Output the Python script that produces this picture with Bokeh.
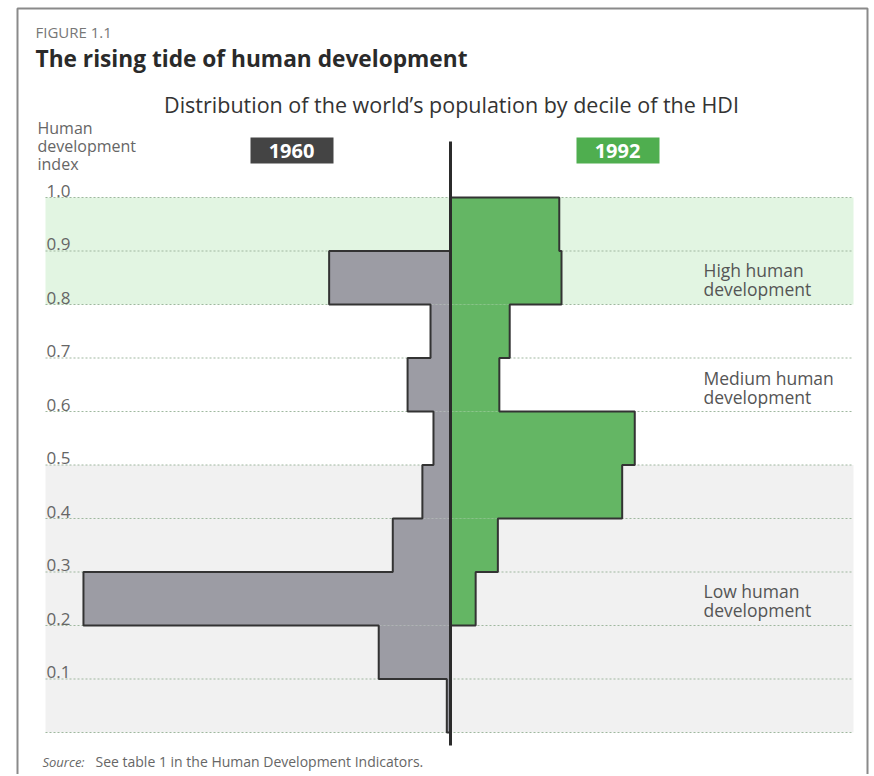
from bokeh.plotting import figure
from bokeh.models import Range1d, Label, BoxAnnotation, ColumnDataSource
from bokeh.core.properties import value
from bokeh.embed import file_html
from bokeh.resources import INLINE

# ---------------- data ----------------
decile_low = [0.9, 0.8, 0.7, 0.6, 0.5, 0.4, 0.3, 0.2, 0.1, 0.0]
share_1960 = [0.0, 16.4, 2.7, 5.8, 2.3, 3.8, 7.8, 49.6, 9.7, 0.5]
share_1992 = [14.7, 15.0, 8.0, 6.6, 24.9, 23.2, 6.4, 3.4, 0.0, 0.0]
tick_values = [1.0, 0.9, 0.8, 0.7, 0.6, 0.5, 0.4, 0.3, 0.2, 0.1]
tick_labels = ["1.0", "0.9", "0.8", "0.7", "0.6", "0.5", "0.4", "0.3", "0.2", "0.1"]
grid_values = [1.0, 0.9, 0.8, 0.7, 0.6, 0.5, 0.4, 0.3, 0.2, 0.1, 0.0]
band_names = ["High human", "Medium human", "Low human"]
band_label_hdi = [0.864, 0.662, 0.265]

# ---------------- layout ----------------
W, H = 872, 774
OFF = 0           # page offset of the canvas
CX = 450          # page x of the zero line
PX_PCT = 7.4      # px per percent
Y0 = 732          # page y of HDI 0
PX_HDI = 535      # px per 1.0 HDI

def dx(sx):       # page x -> data x
    return (sx - CX) / PX_PCT

def dy(sy):       # page y -> data y
    return (Y0 - sy) / PX_HDI

FONT = "Open Sans"
GREEN = "#64b664"
GRAY = "#9c9ca4"
EDGE = "#333333"

p = figure(width=W, height=H, output_backend="svg", toolbar_location=None,
           x_axis_location=None, y_axis_location=None, min_border=0,
           x_range=Range1d(dx(OFF), dx(OFF + W)), y_range=Range1d(dy(OFF + H), dy(OFF)))
p.grid.visible = False
p.outline_line_color = None
p.background_fill_color = "white"
p.border_fill_color = "white"

gl, gr = dx(45), dx(853)

# background bands
p.add_layout(BoxAnnotation(left=gl, right=gr, bottom=0.8, top=1.0,
                           fill_color="#e2f5e2", fill_alpha=1, line_color=None, level="underlay"))
p.add_layout(BoxAnnotation(left=gl, right=gr, bottom=0.0, top=0.5,
                           fill_color="#f1f1f1", fill_alpha=1, line_color=None, level="underlay"))

# grid lines
p.segment(x0=[gl] * len(grid_values), x1=[gr] * len(grid_values),
          y0=grid_values, y1=grid_values, line_color="#9fb89f",
          line_width=1.2, line_dash="2 2")

# bars
mids = [d + 0.05 for d in decile_low]
src = ColumnDataSource(dict(y=mids, l60=[-v for v in share_1960], r92=share_1992))
p.hbar(y="y", height=0.1, left="l60", right=0, source=src, fill_color=GRAY, line_color=None)
p.hbar(y="y", height=0.1, left=0, right="r92", source=src, fill_color=GREEN, line_color=None)

# step outlines
def outline(vals, sign):
    xs, ys = [0], [1.0]
    for lo, v in zip(decile_low, vals):
        xs += [sign * v, sign * v]
        ys += [lo + 0.1, lo]
    xs.append(0)
    ys.append(0.0)
    return xs, ys

x60, y60 = outline(share_1960, -1)
x92, y92 = outline(share_1992, 1)
p.line(x60, y60, line_color=EDGE, line_width=2)
p.line(x92, y92, line_color=EDGE, line_width=2)

# centre axis
p.line([0, 0], [dy(141), dy(745)], line_color="#2b2b2b", line_width=3)

# tick labels
p.text(x=[dx(46)] * len(tick_values), y=tick_values, text=tick_labels,
       text_font=value(FONT), text_font_size="17px", text_color="#666666",
       text_baseline="bottom", y_offset=-1)

def lab(sx, sy, text, size, color="#444444", style="normal", align="left", base="middle"):
    p.add_layout(Label(x=dx(sx), y=dy(sy), text=text, text_font=FONT,
                       text_font_size=size, text_color=color, text_font_style=style,
                       text_align=align, text_baseline=base))

# frame
p.line([dx(17), dx(17), dx(867), dx(867)], [dy(800), dy(8), dy(8), dy(800)],
       line_color="#8a8a8a", line_width=2)

# titles
lab(35, 31, "FIGURE 1.1", "15px", "#777777")
lab(35, 58, "The rising tide of human development", "22.7px", "#2a2a2a", "bold")
lab(451, 104, "Distribution of the world\u2019s population by decile of the HDI", "21.5px", "#333333", align="center")
lab(37, 127, "Human", "16px", "#666666")
lab(37, 145, "development", "16px", "#666666")
lab(37, 163, "index", "16px", "#666666")

# year boxes
p.add_layout(BoxAnnotation(left=dx(250), right=dx(333), top=dy(137), bottom=dy(163),
                           fill_color="#444444", fill_alpha=1, line_color=None))
p.add_layout(BoxAnnotation(left=dx(576), right=dx(659), top=dy(137), bottom=dy(163),
                           fill_color="#4fae4f", fill_alpha=1, line_color=None))
lab(291, 150, "1960", "20px", "white", "bold", align="center")
lab(617, 150, "1992", "20px", "white", "bold", align="center")

# band labels
for name, h in zip(band_names, band_label_hdi):
    sy = Y0 - h * PX_HDI
    lab(703, sy, name, "17.5px", "#555555")
    lab(703, sy + 19, "development", "17.5px", "#555555")

# source
lab(42, 761, "Source:", "13px", "#666666", "italic")
lab(95, 761, "See table 1 in the Human Development Indicators.", "14px", "#666666")

open("out.html", "w").write(file_html(p, INLINE))
